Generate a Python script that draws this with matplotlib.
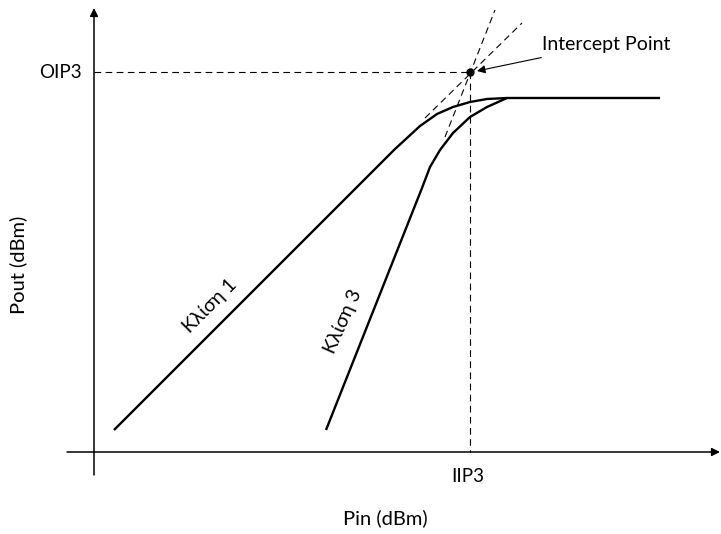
import matplotlib.pyplot as plt

plt.rcParams['font.family'] = ['Lato', 'Open Sans', 'DejaVu Sans']

# schematic units: Pin along x, Pout along y (arbitrary)
slope1_x = [2.0, 28.9, 30.1, 31.3, 32.6, 34.3, 35.9, 37.6, 39.3, 41.3, 56.6]
slope1_y = [2.2, 29.1, 30.3, 31.4, 32.6, 33.8, 34.5, 35.0, 35.3, 35.4, 35.4]

slope3_x = [23.2, 32.8, 33.6, 34.6, 35.9, 37.6, 39.3, 41.3]
slope3_y = [2.2, 26.4, 28.5, 30.2, 31.9, 33.5, 34.5, 35.4]

ext1_x = [33.1, 42.8]
ext1_y = [33.4, 42.9]
ext3_x = [35.1, 40.1]
ext3_y = [31.5, 44.2]

iip3 = 37.6
oip3 = 38.0

fig = plt.figure(figsize=(7.21, 5.34), dpi=100)
ax = fig.add_axes([0, 0, 1, 1])
ax.set_xlim(-9.4, 62.7)
ax.set_ylim(-8.2, 45.2)
ax.axis('off')

# axes with arrows
ax.annotate('', xy=(0, 44.4), xytext=(0, -2.3),
            arrowprops=dict(arrowstyle='-|>', lw=1.1, color='k', mutation_scale=12, shrinkA=0, shrinkB=0))
ax.annotate('', xy=(62.6, 0), xytext=(-2.7, 0),
            arrowprops=dict(arrowstyle='-|>', lw=1.1, color='k', mutation_scale=12, shrinkA=0, shrinkB=0))

# response curves
ax.plot(slope1_x, slope1_y, color='k', lw=1.7, solid_capstyle='butt', solid_joinstyle='round')
ax.plot(slope3_x, slope3_y, color='k', lw=1.7, solid_capstyle='butt', solid_joinstyle='round')

# extrapolated dashed lines
dash = dict(color='k', lw=0.8, linestyle=(0, (6, 4)))
ax.plot(ext1_x, ext1_y, **dash)
ax.plot(ext3_x, ext3_y, **dash)
ax.plot([0, iip3], [oip3, oip3], **dash)
ax.plot([iip3, iip3], [oip3, 0], **dash)

ax.plot([iip3], [oip3], 'o', color='k', markersize=5)

ax.annotate('Intercept Point', xy=(38.3, 38.1), xytext=(44.8, 40.8),
            fontsize=14, va='center', ha='left',
            arrowprops=dict(arrowstyle='-|>', lw=0.8, color='k', mutation_scale=12,
                            shrinkA=8, shrinkB=0))

ax.text(-1.2, oip3, 'OIP3', fontsize=13.5, ha='right', va='center')
ax.text(iip3 - 0.2, -2.4, 'IIP3', fontsize=13.5, ha='center', va='center')
ax.text(29.1, -6.6, 'Pin (dBm)', fontsize=14.5, ha='center', va='center')
ax.text(-7.6, 18.7, 'Pout (dBm)', fontsize=14.5, ha='center', va='center', rotation=90)

ax.text(11.6, 14.6, 'Κλίση 1', fontsize=14, ha='center', va='center', rotation=45)
ax.text(24.9, 13.1, 'Κλίση 3', fontsize=14, ha='center', va='center', rotation=66)

fig.savefig('out.png', dpi=100)
